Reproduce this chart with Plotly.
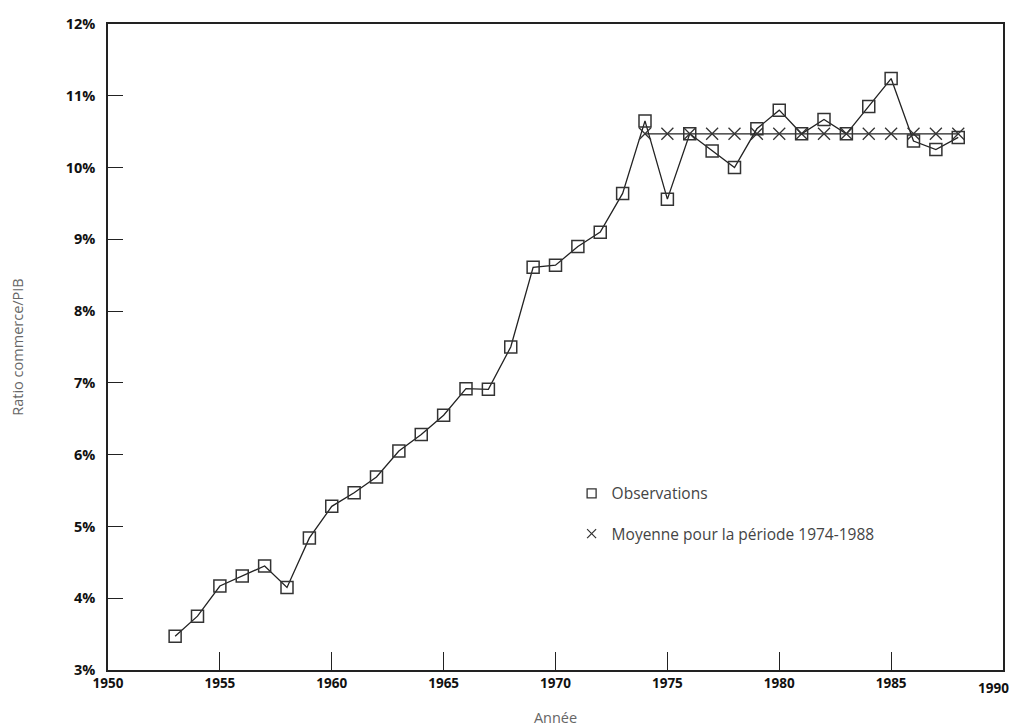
import plotly.graph_objects as go

years = list(range(1953, 1989))
ratio = [3.47, 3.75, 4.17, 4.31, 4.45, 4.15, 4.84, 5.28, 5.47, 5.69,
         6.05, 6.28, 6.55, 6.92, 6.91, 7.50, 8.61, 8.64, 8.90, 9.10,
         9.64, 10.65, 9.56, 10.47, 10.23, 10.00, 10.54, 10.80, 10.47, 10.67,
         10.47, 10.85, 11.24, 10.37, 10.25, 10.42]
mean_years = list(range(1974, 1989))
mean_vals = [10.47] * len(mean_years)

x_ticks = [1950, 1955, 1960, 1965, 1970, 1975, 1980, 1985, 1990]
x_ticklabels = ["1950", "1955", "1960", "1965", "1970", "1975", "1980", "1985", ""]
last_x_label = "1990"
y_ticks = [3, 4, 5, 6, 7, 8, 9, 10, 11, 12]
y_ticklabels = ["3%", "4%", "5%", "6%", "7%", "8%", "9%", "10%", "11%", "12%"]

ink = "#222222"
mk = "#333333"

fig = go.Figure()
fig.add_trace(go.Scatter(x=years, y=ratio, mode="lines",
                         line=dict(color=ink, width=1.3),
                         showlegend=False, hoverinfo="skip"))
fig.add_trace(go.Scatter(x=mean_years, y=mean_vals, mode="lines",
                         line=dict(color=ink, width=1.3),
                         showlegend=False, hoverinfo="skip"))
fig.add_trace(go.Scatter(x=years, y=ratio, mode="markers", showlegend=False,
                         marker=dict(symbol="square-open", size=12, color=mk,
                                     line=dict(width=1.5, color=mk))))
fig.add_trace(go.Scatter(x=mean_years, y=mean_vals, mode="markers", showlegend=False,
                         marker=dict(symbol="x-thin-open", size=12, color=mk,
                                     line=dict(width=1.3, color=mk))))
# legend-only entries with smaller symbols
fig.add_trace(go.Scatter(x=[None], y=[None], mode="markers", name="Observations",
                         legendgroup="a",
                         marker=dict(symbol="square-open", size=9, color=mk,
                                     line=dict(width=1.3, color=mk))))
fig.add_trace(go.Scatter(x=[None], y=[None], mode="markers",
                         name="Moyenne pour la période 1974-1988",
                         legendgroup="b",
                         marker=dict(symbol="x-thin-open", size=9, color=mk,
                                     line=dict(width=1.2, color=mk))))

ytickfont = dict(family="Open Sans", size=14.5, color="#111111", weight=700)
xtickfont = dict(family="Open Sans", size=13.5, color="#111111", weight=700)
titlefont = dict(family="Open Sans", size=14.5, color="#666666")

fig.update_layout(
    width=1012, height=720,
    margin=dict(l=100, r=17, t=16, b=58),
    paper_bgcolor="white", plot_bgcolor="white",
    legend=dict(x=0.518, y=0.299, xanchor="left", yanchor="top",
                font=dict(family="Open Sans", size=15.5, color="#444444"),
                bgcolor="rgba(0,0,0,0)", tracegroupgap=17),
    xaxis=dict(range=[1950, 1990], tickvals=x_ticks, ticktext=x_ticklabels,
               ticks="inside", ticklen=18,
               tickwidth=1.2, tickcolor=ink, showgrid=False, zeroline=False,
               showline=True, linecolor=ink, linewidth=1.5, mirror=True,
               tickfont=xtickfont, automargin=False,
               title=dict(text="Année", font=titlefont, standoff=22)),
    yaxis=dict(range=[3, 12], tickvals=y_ticks, ticktext=y_ticklabels,
               ticks="inside", ticklen=15, tickwidth=1.2, tickcolor=ink,
               showgrid=False, ticklabelstandoff=8,
               zeroline=False, showline=True, linecolor=ink, linewidth=1.5,
               mirror=True, tickfont=ytickfont, automargin=False,
               title=dict(text="Ratio commerce/PIB", font=titlefont, standoff=48)),
)

# last x tick label, kept inside the visible page
fig.add_annotation(x=x_ticks[-1], xref="x", y=0, yref="paper",
                   text=last_x_label, showarrow=False, font=xtickfont,
                   xanchor="right", yanchor="top", xshift=8, yshift=-7)

fig.write_html("out.html")
